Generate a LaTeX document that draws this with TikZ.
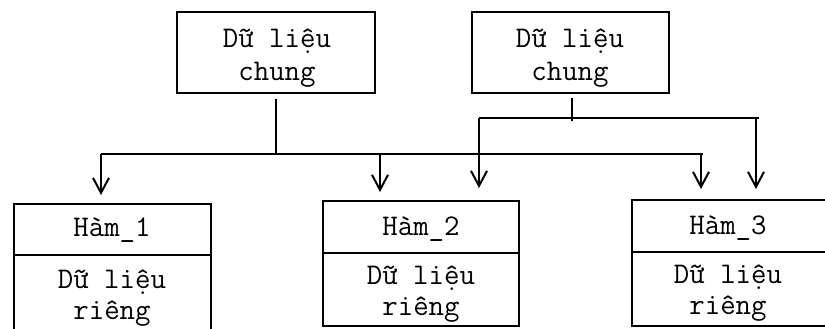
\documentclass[tikz,border=0pt]{standalone}
\usepackage{fontspec}
\usetikzlibrary{arrows.meta}
\begin{document}
\begin{tikzpicture}[x=1pt,y=-1pt,
  box/.style={draw,line width=1.8pt,inner sep=0pt},
  lbl/.style={anchor=base,inner sep=0pt,font=\ttfamily\fontsize{30}{34}\selectfont},
  conn/.style={line width=2pt},
  arr/.style={line width=2pt,-{Straight Barb[length=15pt,width=16pt,line width=2pt]}}]
\useasboundingbox (0,0) rectangle (825,329);
\clip (0,0) rectangle (825,329);
% top boxes
\node[box,minimum width=198pt,minimum height=81pt] (a) at (276,52.5) {};
\node[box,minimum width=197pt,minimum height=81pt] (b) at (570.5,52.5) {};
\node[lbl] (a1) at (277,48) {Dữ liệu};
\node[lbl] (a2) at (277,81) {chung};
\node[lbl] (b1) at (570,48) {Dữ liệu};
\node[lbl] (b2) at (570,81) {chung};
% function boxes
\node[box,minimum width=197pt,minimum height=51pt] (h1t) at (112.5,229.5) {};
\node[box,minimum width=197pt,minimum height=80pt] (h1b) at (112.5,295) {};
\node[box,minimum width=196pt,minimum height=52pt] (h2t) at (421,227) {};
\node[box,minimum width=196pt,minimum height=73pt] (h2b) at (421,289.5) {};
\node[box,minimum width=197pt,minimum height=52pt] (h3t) at (730.5,226) {};
\node[box,minimum width=197pt,minimum height=74pt] (h3b) at (730.5,289) {};
\node[lbl] (h1n) at (112,236) {Hàm\_1};
\node[lbl] (h1d) at (112,288) {Dữ liệu};
\node[lbl] (h1r) at (112,319) {riêng};
\node[lbl] (h2n) at (421,235) {Hàm\_2};
\node[lbl] (h2d) at (421,284) {Dữ liệu};
\node[lbl] (h2r) at (421,315) {riêng};
\node[lbl] (h3n) at (728,234) {Hàm\_3};
\node[lbl] (h3d) at (728,283) {Dữ liệu};
\node[lbl] (h3r) at (728,314) {riêng};
% junction coordinates
\coordinate (ja) at (276,154);
\coordinate (jal) at (101,154);
\coordinate (jar) at (703,154);
\coordinate (jb) at (572,118);
\coordinate (jbl) at (479,118);
\coordinate (jbr) at (759,118);
\coordinate (t1) at (101,195);
\coordinate (t2) at (380,192);
\coordinate (t3) at (701,189);
\coordinate (t4) at (479,188);
\coordinate (t5) at (756,189);
% connectors from box A
\draw[conn] ([yshift=-5pt]a.south) -- (a.south |- ja);
\draw[conn] (jal) -- (jar);
\draw[arr] (jal) -- (t1);
\draw[arr] (t2 |- ja) -- (t2);
\draw[arr] (t3 |- ja) -- (t3);
% connectors from box B
\draw[conn] ([yshift=-4pt]b.south -| jb) -- ([yshift=-3pt]jb);
\draw[conn] (jbl) -- (jbr);
\draw[arr] (jbl) -- (t4);
\draw[arr] (t5 |- jb) -- (t5);
\end{tikzpicture}
\end{document}
